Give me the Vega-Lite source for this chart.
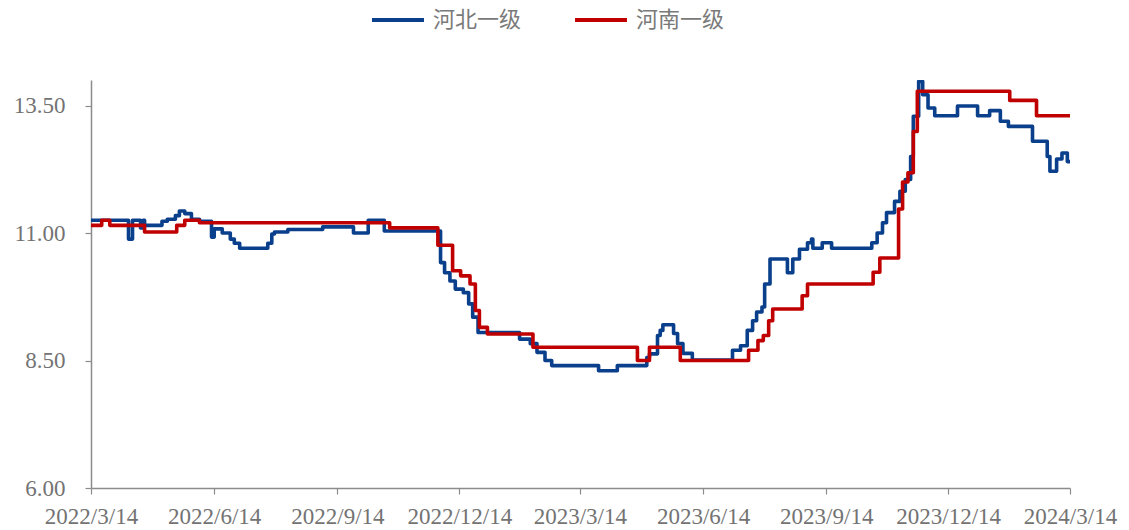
{
  "$schema": "https://vega.github.io/schema/vega-lite/v6.json",
  "width": 979,
  "height": 408,
  "autosize": {"type": "none"},
  "padding": {"left": 91, "top": 80, "right": 59, "bottom": 42},
  "background": "white",
  "config": {"view": {"stroke": null}},
  "datasets": {
    "hebei": [
      {"date": "2022/03/14", "price": 11.25},
      {"date": "2022/04/11", "price": 10.88},
      {"date": "2022/04/14", "price": 11.25},
      {"date": "2022/04/20", "price": 11.10},
      {"date": "2022/04/22", "price": 11.25},
      {"date": "2022/04/23", "price": 11.15},
      {"date": "2022/05/06", "price": 11.23},
      {"date": "2022/05/10", "price": 11.27},
      {"date": "2022/05/16", "price": 11.34},
      {"date": "2022/05/19", "price": 11.43},
      {"date": "2022/05/23", "price": 11.38},
      {"date": "2022/05/28", "price": 11.27},
      {"date": "2022/06/03", "price": 11.23},
      {"date": "2022/06/12", "price": 10.92},
      {"date": "2022/06/14", "price": 11.08},
      {"date": "2022/06/20", "price": 11.00},
      {"date": "2022/06/26", "price": 10.88},
      {"date": "2022/06/29", "price": 10.80},
      {"date": "2022/07/03", "price": 10.70},
      {"date": "2022/07/24", "price": 10.80},
      {"date": "2022/07/27", "price": 10.98},
      {"date": "2022/07/29", "price": 11.02},
      {"date": "2022/08/08", "price": 11.07},
      {"date": "2022/09/03", "price": 11.12},
      {"date": "2022/09/26", "price": 11.00},
      {"date": "2022/10/07", "price": 11.25},
      {"date": "2022/10/19", "price": 11.04},
      {"date": "2022/11/30", "price": 10.42},
      {"date": "2022/12/03", "price": 10.22},
      {"date": "2022/12/07", "price": 10.06},
      {"date": "2022/12/11", "price": 9.90},
      {"date": "2022/12/17", "price": 9.83},
      {"date": "2022/12/21", "price": 9.61},
      {"date": "2022/12/24", "price": 9.35},
      {"date": "2022/12/28", "price": 9.05},
      {"date": "2023/01/28", "price": 8.92},
      {"date": "2023/02/05", "price": 8.83},
      {"date": "2023/02/10", "price": 8.66},
      {"date": "2023/02/16", "price": 8.50},
      {"date": "2023/02/21", "price": 8.40},
      {"date": "2023/03/28", "price": 8.30},
      {"date": "2023/04/11", "price": 8.40},
      {"date": "2023/05/03", "price": 8.56},
      {"date": "2023/05/05", "price": 8.63},
      {"date": "2023/05/11", "price": 8.99},
      {"date": "2023/05/13", "price": 9.09},
      {"date": "2023/05/15", "price": 9.20},
      {"date": "2023/05/23", "price": 9.03},
      {"date": "2023/05/26", "price": 8.83},
      {"date": "2023/05/30", "price": 8.64},
      {"date": "2023/06/06", "price": 8.51},
      {"date": "2023/07/06", "price": 8.70},
      {"date": "2023/07/12", "price": 8.79},
      {"date": "2023/07/17", "price": 9.09},
      {"date": "2023/07/21", "price": 9.28},
      {"date": "2023/07/24", "price": 9.45},
      {"date": "2023/07/28", "price": 9.55},
      {"date": "2023/07/30", "price": 10.00},
      {"date": "2023/08/03", "price": 10.49},
      {"date": "2023/08/16", "price": 10.22},
      {"date": "2023/08/20", "price": 10.49},
      {"date": "2023/08/25", "price": 10.68},
      {"date": "2023/08/31", "price": 10.81},
      {"date": "2023/09/03", "price": 10.88},
      {"date": "2023/09/04", "price": 10.70},
      {"date": "2023/09/11", "price": 10.81},
      {"date": "2023/09/18", "price": 10.70},
      {"date": "2023/10/18", "price": 10.81},
      {"date": "2023/10/22", "price": 11.00},
      {"date": "2023/10/26", "price": 11.20},
      {"date": "2023/10/29", "price": 11.40},
      {"date": "2023/11/04", "price": 11.62},
      {"date": "2023/11/08", "price": 11.82},
      {"date": "2023/11/12", "price": 12.05},
      {"date": "2023/11/16", "price": 12.50},
      {"date": "2023/11/18", "price": 13.29},
      {"date": "2023/11/22", "price": 13.97},
      {"date": "2023/11/25", "price": 13.71},
      {"date": "2023/11/29", "price": 13.45},
      {"date": "2023/12/04", "price": 13.30},
      {"date": "2023/12/21", "price": 13.49},
      {"date": "2024/01/05", "price": 13.30},
      {"date": "2024/01/14", "price": 13.40},
      {"date": "2024/01/22", "price": 13.19},
      {"date": "2024/01/28", "price": 13.09},
      {"date": "2024/02/15", "price": 12.80},
      {"date": "2024/02/26", "price": 12.50},
      {"date": "2024/02/28", "price": 12.21},
      {"date": "2024/03/04", "price": 12.45},
      {"date": "2024/03/08", "price": 12.57},
      {"date": "2024/03/12", "price": 12.40},
      {"date": "2024/03/14", "price": 12.40}
    ],
    "henan": [
      {"date": "2022/03/14", "price": 11.15},
      {"date": "2022/03/22", "price": 11.25},
      {"date": "2022/03/28", "price": 11.15},
      {"date": "2022/04/23", "price": 11.02},
      {"date": "2022/05/17", "price": 11.15},
      {"date": "2022/05/23", "price": 11.25},
      {"date": "2022/06/03", "price": 11.20},
      {"date": "2022/10/23", "price": 11.10},
      {"date": "2022/11/28", "price": 10.76},
      {"date": "2022/12/09", "price": 10.26},
      {"date": "2022/12/15", "price": 10.16},
      {"date": "2022/12/22", "price": 10.00},
      {"date": "2022/12/26", "price": 9.48},
      {"date": "2022/12/29", "price": 9.15},
      {"date": "2023/01/04", "price": 9.02},
      {"date": "2023/02/07", "price": 8.76},
      {"date": "2023/04/26", "price": 8.50},
      {"date": "2023/05/05", "price": 8.76},
      {"date": "2023/05/28", "price": 8.50},
      {"date": "2023/07/18", "price": 8.70},
      {"date": "2023/07/25", "price": 8.89},
      {"date": "2023/07/29", "price": 8.99},
      {"date": "2023/08/02", "price": 9.28},
      {"date": "2023/08/05", "price": 9.51},
      {"date": "2023/08/27", "price": 9.77},
      {"date": "2023/08/31", "price": 10.00},
      {"date": "2023/10/19", "price": 10.23},
      {"date": "2023/10/24", "price": 10.51},
      {"date": "2023/11/07", "price": 11.47},
      {"date": "2023/11/10", "price": 12.00},
      {"date": "2023/11/14", "price": 12.18},
      {"date": "2023/11/18", "price": 12.99},
      {"date": "2023/11/21", "price": 13.78},
      {"date": "2024/01/29", "price": 13.60},
      {"date": "2024/02/18", "price": 13.30},
      {"date": "2024/03/14", "price": 13.30}
    ]
  },
  "encoding": {
    "x": {
      "field": "date",
      "type": "temporal",
      "title": null,
      "scale": {
        "domain": [
          {"year": 2022, "month": 3, "date": 14},
          {"year": 2024, "month": 3, "date": 14}
        ]
      },
      "axis": {
        "values": [
          {"year": 2022, "month": 3, "date": 14},
          {"year": 2022, "month": 6, "date": 14},
          {"year": 2022, "month": 9, "date": 14},
          {"year": 2022, "month": 12, "date": 14},
          {"year": 2023, "month": 3, "date": 14},
          {"year": 2023, "month": 6, "date": 14},
          {"year": 2023, "month": 9, "date": 14},
          {"year": 2023, "month": 12, "date": 14},
          {"year": 2024, "month": 3, "date": 14}
        ],
        "format": "%Y/%-m/%-d",
        "labelFont": "Liberation Serif",
        "labelFontSize": 23,
        "labelColor": "#737373",
        "labelPadding": 11,
        "labelFlush": false,
        "labelOverlap": false,
        "grid": false,
        "domainColor": "#8c8c8c",
        "domainWidth": 1.5,
        "tickColor": "#8c8c8c",
        "tickSize": 6,
        "tickWidth": 1.2
      }
    },
    "y": {
      "field": "price",
      "type": "quantitative",
      "title": null,
      "scale": {"domain": [6, 14], "nice": false, "zero": false},
      "axis": {
        "values": [6, 8.5, 11, 13.5],
        "format": ".2f",
        "labelFont": "Liberation Serif",
        "labelFontSize": 23,
        "labelColor": "#737373",
        "labelPadding": 20,
        "grid": false,
        "domainColor": "#8c8c8c",
        "domainWidth": 1.5,
        "tickColor": "#8c8c8c",
        "tickSize": 6,
        "tickWidth": 1.2
      }
    },
    "color": {
      "field": "series",
      "type": "nominal",
      "scale": {"domain": ["河北一级", "河南一级"], "range": ["#0a3f8c", "#c00000"]},
      "legend": {
        "title": null,
        "orient": "none",
        "legendX": 279,
        "legendY": -88,
        "direction": "horizontal",
        "symbolType": "stroke",
        "symbolSize": 2700,
        "symbolStrokeWidth": 4,
        "labelFont": "Noto Sans CJK SC",
        "labelFontSize": 22,
        "labelColor": "#7a7a7a",
        "labelOffset": 7,
        "columnPadding": 45
      }
    }
  },
  "layer": [
    {
      "data": {"name": "hebei"},
      "transform": [{"calculate": "'河北一级'", "as": "series"}],
      "mark": {"type": "line", "interpolate": "step-after", "strokeWidth": 3.6, "strokeJoin": "round", "clip": true}
    },
    {
      "data": {"name": "henan"},
      "transform": [{"calculate": "'河南一级'", "as": "series"}],
      "mark": {"type": "line", "interpolate": "step-after", "strokeWidth": 3.6, "strokeJoin": "round", "clip": true}
    }
  ]
}
